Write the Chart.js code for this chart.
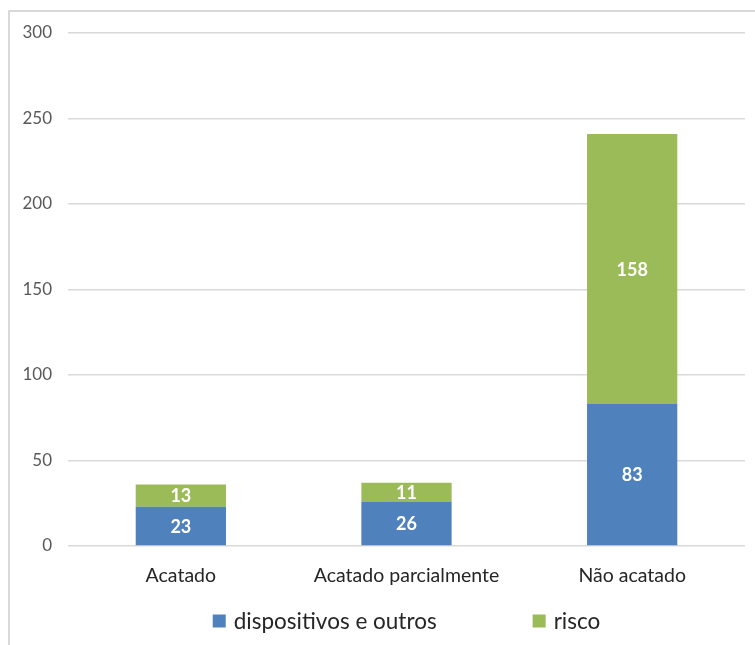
<!DOCTYPE html>
<html>
<head>
<meta charset="utf-8">
<style>
  html, body { margin: 0; padding: 0; background: #ffffff; }
  #wrap { position: relative; width: 755px; height: 645px; }
</style>
<script src="https://cdn.jsdelivr.net/npm/chart.js@4/dist/chart.umd.min.js"></script>
</head>
<body>
<div id="wrap"><canvas id="chart" width="755" height="645"></canvas></div>
<script>
const categories = ['Acatado', 'Acatado parcialmente', 'Não acatado'];
const dispositivos = [23, 26, 83];
const risco = [13, 11, 158];
const yTicks = [0, 50, 100, 150, 200, 250, 300];

const FONT = 'Lato, Carlito, Calibri, "Liberation Sans", sans-serif';
const BLUE = '#4F81BD';
const GREEN = '#9BBB59';

// Light frame around the chart
const framePlugin = {
  id: 'frame',
  beforeDraw(chart) {
    const ctx = chart.ctx;
    ctx.save();
    ctx.strokeStyle = '#D9D9D9';
    ctx.lineWidth = 2;
    ctx.beginPath();
    ctx.moveTo(9, chart.height);
    ctx.lineTo(9, 11);
    ctx.lineTo(chart.width, 11);
    ctx.stroke();
    ctx.restore();
  }
};

// Value labels centred inside each stacked segment
const valueLabels = {
  id: 'valueLabels',
  afterDatasetsDraw(chart) {
    const ctx = chart.ctx;
    ctx.save();
    ctx.fillStyle = '#ffffff';
    ctx.font = 'bold 18px ' + FONT;
    ctx.textAlign = 'center';
    ctx.textBaseline = 'middle';
    chart.data.datasets.forEach((ds, di) => {
      const meta = chart.getDatasetMeta(di);
      meta.data.forEach((bar, i) => {
        const v = ds.data[i];
        const cy = (bar.y + bar.base) / 2;
        ctx.fillText(String(v), bar.x, cy + 1);
      });
    });
    ctx.restore();
  }
};

// Legend row below the axis
const bottomLegend = {
  id: 'bottomLegend',
  afterDraw(chart) {
    const ctx = chart.ctx;
    const area = chart.chartArea;
    const box = 13, gap = 8, itemGap = 96;
    ctx.save();
    ctx.font = '22.5px ' + FONT;
    const items = chart.data.datasets.map(ds => ({
      text: ds.label, color: ds.backgroundColor, w: ctx.measureText(ds.label).width
    }));
    let total = 0;
    items.forEach((it, i) => { total += box + gap + it.w + (i ? itemGap : 0); });
    let x = (area.left + area.right) / 2 - total / 2;
    const cy = area.bottom + 75;
    ctx.textBaseline = 'middle';
    ctx.textAlign = 'left';
    items.forEach((it, i) => {
      if (i) x += itemGap;
      ctx.fillStyle = it.color;
      ctx.fillRect(x, cy - box / 2, box, box);
      x += box + gap;
      ctx.fillStyle = '#262626';
      ctx.fillText(it.text, x, cy + 1);
      x += it.w;
    });
    ctx.restore();
  }
};

new Chart(document.getElementById('chart'), {
  type: 'bar',
  data: {
    labels: categories,
    datasets: [
      { label: 'dispositivos e outros', data: dispositivos, backgroundColor: BLUE,
        categoryPercentage: 1, barPercentage: 0.4 },
      { label: 'risco', data: risco, backgroundColor: GREEN,
        categoryPercentage: 1, barPercentage: 0.4 }
    ]
  },
  options: {
    responsive: false,
    animation: false,
    layout: { padding: { top: 33, right: 10, bottom: 39, left: 0 } },
    plugins: {
      legend: { display: false },
      tooltip: { enabled: false }
    },
    scales: {
      x: {
        stacked: true,
        grid: { display: false },
        border: { display: false },
        ticks: { color: '#262626', font: { family: FONT, size: 19.5 }, padding: 10 },
        afterFit(scale) { scale.height = 60; }
      },
      y: {
        stacked: true,
        min: 0,
        max: 300,
        afterBuildTicks(scale) { scale.ticks = yTicks.map(v => ({ value: v })); },
        grid: { color: '#D9D9D9', lineWidth: 1.5, drawTicks: false },
        border: { display: false },
        ticks: { color: '#595959', font: { family: FONT, size: 17 }, padding: 16 },
        afterFit(scale) { scale.width = 68; }
      }
    }
  },
  plugins: [framePlugin, valueLabels, bottomLegend]
});
</script>
</body>
</html>
